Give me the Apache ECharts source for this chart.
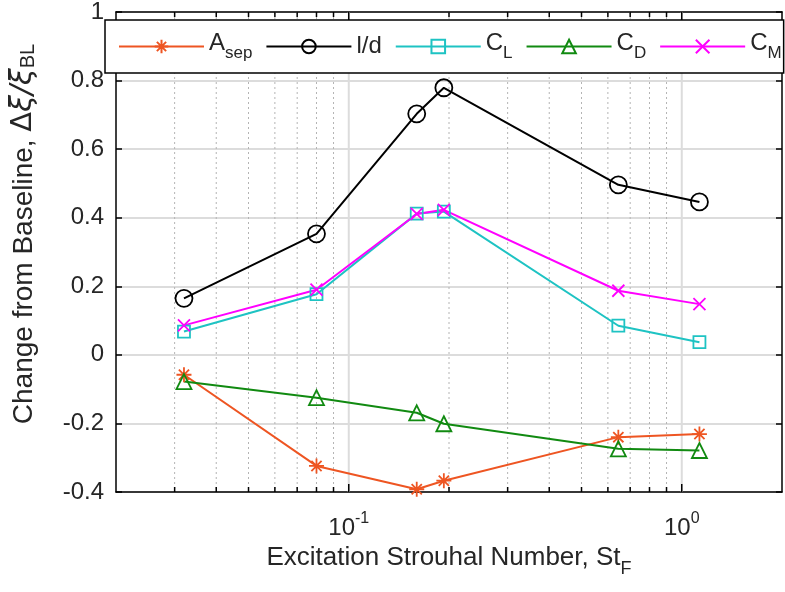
<!DOCTYPE html>
<html>
<head>
<meta charset="utf-8">
<script src="https://cdn.jsdelivr.net/npm/echarts@6/dist/echarts.min.js"></script>
<style>
html,body{margin:0;padding:0;background:#fff;}
#chart{width:785px;height:592px;}
</style>
</head>
<body>
<div id="chart"></div>
<script>
// ---- data ----
const stF = [0.032, 0.08, 0.16, 0.193, 0.645, 1.13];
const aSep = [-0.058, -0.324, -0.392, -0.367, -0.240, -0.231];
const liftDrag = [0.165, 0.353, 0.703, 0.779, 0.496, 0.446];
const cL = [0.068, 0.177, 0.412, 0.418, 0.085, 0.037];
const cD = [-0.078, -0.125, -0.169, -0.201, -0.274, -0.279];
const cM = [0.086, 0.190, 0.411, 0.423, 0.187, 0.148];
const seriesNames = ['A_sep', 'l/d', 'C_L', 'C_D', 'C_M'];
const xTickValues = [0.03,0.04,0.05,0.06,0.07,0.08,0.09,0.1,0.2,0.3,0.4,0.5,0.6,0.7,0.8,0.9,1];
const xMajorLabels = {'0.1': '{b|10}{s|-1}', '1': '{b|10}{s|0}'};
const xName = 'Excitation Strouhal Number, St';
const xNameSub = 'F';
const yNameMain = 'Change from Baseline, ';
const yNameDelta = 'Δ';
const yNameSym = 'ξ/ξ';
const yNameSub = 'BL';

const FONT = "'Liberation Sans', Arial, Helvetica, sans-serif";
const TXT = '#262626';
const Y_MIN = -0.4, Y_MAX = 1;

const pairs = arr => stF.map((x, i) => [x, arr[i]]);

const ASTER = 'path://M0,5L10,5M5,0L5,10M1.6,1.6L8.4,8.4M8.4,1.6L1.6,8.4';
const XMARK = 'path://M0,0L10,10M10,0L0,10';
const CLEAR = 'rgba(0,0,0,0)';

function lineSeries(name, data, color, symbol, size) {
  return {
    name: name, type: 'line', data: pairs(data),
    xAxisIndex: 0, yAxisIndex: 0,
    symbol: symbol, symbolSize: size, showAllSymbol: true,
    lineStyle: {color: color, width: 2},
    itemStyle: {color: CLEAR, borderColor: color, borderWidth: 1.8},
    emphasis: {disabled: true},
    z: 3
  };
}

const chart = echarts.init(document.getElementById('chart'), null, {renderer: 'canvas'});

const option = {
  animation: false,
  backgroundColor: '#fff',
  textStyle: {fontFamily: FONT},
  grid: {left: 114, top: 12, width: 668, height: 480, containLabel: false},
  legend: {
    left: 105, top: 20,
    padding: [11, 2, 11, 13],
    itemGap: 13,
    itemWidth: 85, itemHeight: 17,
    backgroundColor: '#fff',
    borderColor: '#000', borderWidth: 1.5,
    data: seriesNames,
    formatter: function (n) {
      const p = n.split('_');
      return p.length > 1 ? '{m|' + p[0] + '}{s|' + p[1] + '}' : '{m|' + n + '}';
    },
    textStyle: {
      fontFamily: FONT, color: TXT,
      rich: {
        m: {fontSize: 24, fontFamily: FONT, color: TXT, verticalAlign: 'top'},
        s: {fontSize: 17, fontFamily: FONT, color: TXT, verticalAlign: 'top', padding: [14, 0, 0, 0]}
      }
    }
  },
  xAxis: [{
    type: 'log', logBase: 10, min: 0.02, max: 2,
    position: 'bottom',
    axisLine: {show: true, onZero: false, lineStyle: {color: '#000', width: 1.5}},
    axisTick: {show: false},
    minorTick: {show: false},
    splitLine: {show: false},
    axisLabel: {
      margin: 19,
      formatter: function (v) {
        if (Math.abs(v - 0.1) < 1e-6) return xMajorLabels['0.1'];
        if (Math.abs(v - 1) < 1e-6) return xMajorLabels['1'];
        return '';
      },
      rich: {
        b: {fontSize: 24, fontFamily: FONT, color: TXT, verticalAlign: 'bottom'},
        s: {fontSize: 16, fontFamily: FONT, color: TXT, verticalAlign: 'bottom', padding: [0, 0, 13, 0]}
      },
      showMinLabel: false, showMaxLabel: false
    },
    name: '{a|' + xName + '}{s|' + xNameSub + '}',
    nameLocation: 'middle', nameGap: 46,
    nameTextStyle: {
      rich: {
        a: {fontSize: 26, fontFamily: FONT, color: TXT, verticalAlign: 'top'},
        s: {fontSize: 18, fontFamily: FONT, color: TXT, verticalAlign: 'top', padding: [15, 0, 0, 0]}
      }
    }
  }, {
    type: 'log', logBase: 10, min: 0.02, max: 2,
    position: 'top',
    axisLine: {show: true, onZero: false, lineStyle: {color: '#000', width: 1.5}},
    axisTick: {show: false},
    axisLabel: {show: false},
    splitLine: {show: false}
  }],
  yAxis: [{
    type: 'value', min: Y_MIN, max: Y_MAX, interval: 0.2,
    position: 'left',
    axisLine: {show: true, onZero: false, lineStyle: {color: '#000', width: 1.5}},
    axisTick: {show: true, inside: true, length: 6, lineStyle: {color: '#000', width: 1.5}},
    splitLine: {show: true, lineStyle: {color: '#dcdcdc', width: 2}},
    axisLabel: {
      margin: 12, fontSize: 24, fontFamily: FONT, color: TXT,
      formatter: function (v) { return String(Math.round(v * 10) / 10); }
    },
    name: '{a|' + yNameMain + '}{d|' + yNameDelta + '}{i|' + yNameSym + '}{s|' + yNameSub + '}',
    nameLocation: 'middle', nameGap: 78, nameRotate: 90,
    nameTextStyle: {
      padding: [0, 0, 0, 36],
      rich: {
        a: {fontSize: 28, fontFamily: FONT, color: TXT, verticalAlign: 'bottom'},
        d: {fontSize: 29, fontFamily: "'DejaVu Sans', sans-serif", color: TXT, verticalAlign: 'bottom'},
        i: {fontSize: 30, fontFamily: "'DejaVu Sans', sans-serif", fontStyle: 'italic', color: TXT, verticalAlign: 'bottom'},
        s: {fontSize: 20, fontFamily: FONT, color: TXT, verticalAlign: 'bottom'}
      }
    }
  }, {
    type: 'value', min: Y_MIN, max: Y_MAX, interval: 0.2,
    position: 'right',
    axisLine: {show: true, onZero: false, lineStyle: {color: '#000', width: 1.5}},
    axisTick: {show: true, inside: true, length: 6, lineStyle: {color: '#000', width: 1.5}},
    splitLine: {show: false},
    axisLabel: {show: false}
  }],
  series: [
    {
      name: 'xgrid', type: 'custom',
      xAxisIndex: 0, yAxisIndex: 0,
      silent: true, z: 1, clip: false,
      data: xTickValues.map(v => [v, Y_MIN]),
      encode: {x: 0, y: 1},
      renderItem: function (params, api) {
        const v = api.value(0);
        const lg = Math.log10(v);
        const major = Math.abs(lg - Math.round(lg)) < 1e-6;
        const x = api.coord([v, Y_MIN])[0];
        const yb = api.coord([v, Y_MIN])[1];
        const yt = api.coord([v, Y_MAX])[1];
        const tl = major ? 8 : 5;
        return {
          type: 'group',
          children: [
            {type: 'line', shape: {x1: x, y1: yt, x2: x, y2: yb},
             style: major ? {stroke: '#dcdcdc', lineWidth: 2} : {stroke: '#b4b4b4', lineWidth: 1, lineDash: [2, 3]}},
            {type: 'line', shape: {x1: x, y1: yb, x2: x, y2: yb - tl}, style: {stroke: '#000', lineWidth: 1.5}},
            {type: 'line', shape: {x1: x, y1: yt, x2: x, y2: yt + tl}, style: {stroke: '#000', lineWidth: 1.5}}
          ]
        };
      }
    },
    lineSeries('A_sep', aSep, '#EE5522', ASTER, 15),
    lineSeries('l/d', liftDrag, '#000000', 'circle', 17),
    lineSeries('C_L', cL, '#1EC3C3', 'rect', 12),
    lineSeries('C_D', cD, '#118A11', 'triangle', 15),
    lineSeries('C_M', cM, '#FF00FF', XMARK, 12)
  ]
};
chart.setOption(option);
</script>
</body>
</html>
